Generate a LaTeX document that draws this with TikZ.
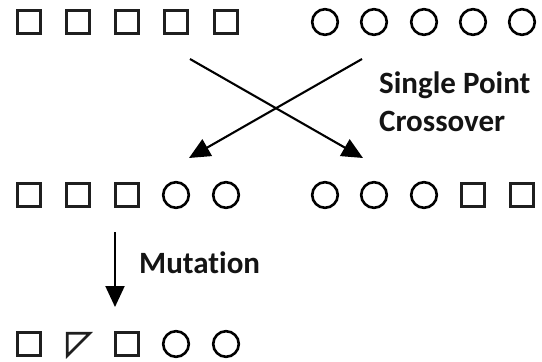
\documentclass[tikz,border=0pt]{standalone}
\usepackage{fontspec}
\setmainfont{Carlito}[Ligatures=NoCommon]
\usetikzlibrary{arrows.meta}
\tikzset{
  gene/.style={draw=black!88, line width=2.7pt, inner sep=0pt},
  sq/.style={gene, rectangle, minimum size=23.6pt},
  ci/.style={gene, draw=black, circle, minimum size=25.6pt, line width=2.6pt},
  arr/.style={line width=2.1pt, -{Triangle[length=21pt,width=19pt]}},
  lab/.style={font=\fontsize{31}{37}\selectfont\bfseries, anchor=base west, inner sep=0pt, text=black!92}
}
\begin{document}
\begin{tikzpicture}[x=1pt,y=-1pt]
\useasboundingbox (0,0) rectangle (542,362);

% parent chromosomes
\foreach \i/\x in {1/29,2/78,3/127,4/176,5/226}
  \node[sq] (pa\i) at (\x,22) {};
\foreach \i/\x in {1/325,2/374,3/424,4/473,5/522}
  \node[ci] (pb\i) at (\x,22) {};

% offspring after crossover
\foreach \i/\x in {1/29,2/78,3/127}
  \node[sq] (ca\i) at (\x,195) {};
\foreach \i/\x in {4/176,5/226}
  \node[ci] (ca\i) at (\x,195) {};
\foreach \i/\x in {1/325,2/374,3/424}
  \node[ci] (cb\i) at (\x,195) {};
\foreach \i/\x in {4/473,5/522}
  \node[sq] (cb\i) at (\x,195) {};

% mutated offspring
\node[sq] (m1) at (29,344) {};
\draw[draw=black!88, line width=2.7pt, line join=miter]
  (67.3,333.3) -- (89.7,333.3) -- (67.3,355.7) -- cycle;
\node[sq] (m3) at (127,344) {};
\node[ci] (m4) at (176,344) {};
\node[ci] (m5) at (226,344) {};

% crossover arrows
\coordinate (xl) at (190,59);
\coordinate (xr) at (362,59);
\coordinate (tl) at (189,158);
\coordinate (tr) at (363,158);
\draw[arr] (xl) -- (tr);
\draw[arr] (xr) -- (tl);
\node[lab] (cross1) at (379,93) {Single Point};
\node[lab] (cross2) at (379,131) {Crossover};

% mutation arrow
\coordinate (ms) at (115,232);
\coordinate (me) at (115,307);
\draw[arr] (ms) -- (me);
\node[lab] (mut) at (139,273) {Mutation};
\end{tikzpicture}
\end{document}
